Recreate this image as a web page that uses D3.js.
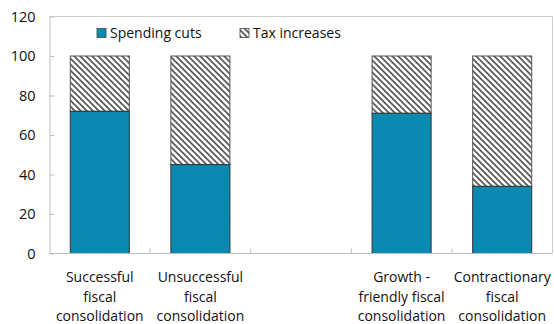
<!DOCTYPE html>
<html>
<head>
<meta charset="utf-8">
<script src="https://cdn.jsdelivr.net/npm/d3@7/dist/d3.min.js"></script>
<style>
  html, body { margin: 0; padding: 0; background: #fff; }
  svg { display: block; font-family: "Open Sans", "Noto Sans", sans-serif; }
</style>
</head>
<body>
<svg id="chart" width="554" height="324"></svg>
<script>
// Category slots (the middle slot is an intentional gap between the two groups)
const slots = ["succ", "unsucc", "gap", "growth", "contr"];
const categoryLines = [
  ["Successful", "fiscal", "consolidation"],
  ["Unsuccessful", "fiscal", "consolidation"],
  [],
  ["Growth -", "friendly fiscal", "consolidation"],
  ["Contractionary", "fiscal", "consolidation"]
];
const spendingCuts = [72, 45, null, 71, 34];
const taxIncreases = [28, 55, null, 29, 66];
const yTicks = [0, 20, 40, 60, 80, 100, 120];
const seriesNames = ["Spending cuts", "Tax increases"];

const svg = d3.select("#chart");
const plot = { left: 49.5, right: 552.5, top: 16.5, bottom: 253.5 };

const x = d3.scaleBand()
  .domain(slots)
  .range([plot.left, plot.right])
  .paddingInner(0.413)
  .paddingOuter(0.2065);

const y = d3.scaleLinear().domain([0, 120]).range([plot.bottom, plot.top]);

// Patterns: diagonal hatch for tax increases, faint texture on the blue fill
const defs = svg.append("defs");
const hatch = defs.append("pattern")
  .attr("id", "hatch")
  .attr("patternUnits", "userSpaceOnUse")
  .attr("width", 6).attr("height", 6);
hatch.append("rect").attr("width", 6).attr("height", 6).attr("fill", "#fff");
hatch.append("path")
  .attr("d", "M-1,-1 L7,7 M-4,2 L2,8 M4,-2 L8,2")
  .attr("stroke", "#555").attr("stroke-width", 1.6);

const blue = defs.append("pattern")
  .attr("id", "blueFill")
  .attr("patternUnits", "userSpaceOnUse")
  .attr("width", 6).attr("height", 6);
blue.append("rect").attr("width", 6).attr("height", 6).attr("fill", "#0a8ab2");
blue.append("path")
  .attr("d", "M-1,-1 L7,7 M-4,2 L2,8 M4,-2 L8,2")
  .attr("stroke", "#05668a").attr("stroke-width", 1).attr("opacity", 0.18);

// Plot frame (top and right edges)
svg.append("path")
  .attr("d", `M${plot.left},${plot.top} H${plot.right} V${plot.bottom}`)
  .attr("fill", "none").attr("stroke", "#cfcfcf").attr("stroke-width", 1);

// Bars
const data = slots.map((s, i) => ({ slot: s, spend: spendingCuts[i], tax: taxIncreases[i] }))
  .filter(d => d.spend != null);

const bars = svg.append("g");
bars.selectAll("rect.tax").data(data).join("rect")
  .attr("class", "tax")
  .attr("x", d => x(d.slot))
  .attr("width", x.bandwidth())
  .attr("y", d => y(d.spend + d.tax))
  .attr("height", d => y(d.spend) - y(d.spend + d.tax))
  .attr("fill", "url(#hatch)")
  .attr("stroke", "#555").attr("stroke-width", 1);

bars.selectAll("rect.spend").data(data).join("rect")
  .attr("class", "spend")
  .attr("x", d => x(d.slot))
  .attr("width", x.bandwidth())
  .attr("y", d => y(d.spend))
  .attr("height", d => y(0) - y(d.spend))
  .attr("fill", "url(#blueFill)")
  .attr("stroke", "#333").attr("stroke-width", 1);

// Y axis with inward ticks
const yAxis = svg.append("g")
  .attr("transform", `translate(${plot.left},0)`)
  .call(d3.axisLeft(y).tickValues(yTicks).tickSizeInner(-5).tickSizeOuter(0).tickPadding(14));
yAxis.select(".domain").attr("stroke", "#bfbfbf");
yAxis.selectAll(".tick line").attr("stroke", "#bfbfbf");
yAxis.selectAll(".tick text")
  .attr("font-size", 14.5).attr("fill", "#111")
  .attr("font-family", "'Open Sans', 'Noto Sans', sans-serif");

// X axis baseline and category boundary ticks
svg.append("line")
  .attr("x1", plot.left).attr("x2", plot.right)
  .attr("y1", plot.bottom).attr("y2", plot.bottom)
  .attr("stroke", "#bfbfbf");
svg.append("g").selectAll("line").data(slots.slice(1))
  .join("line")
  .attr("x1", d => x(d) - x.step() * x.paddingInner() / 2)
  .attr("x2", d => x(d) - x.step() * x.paddingInner() / 2)
  .attr("y1", plot.bottom).attr("y2", plot.bottom - 5)
  .attr("stroke", "#bfbfbf");

// Category labels (multi-line)
const labels = svg.append("g");
slots.forEach((s, i) => {
  const t = labels.append("text")
    .attr("text-anchor", "middle")
    .attr("font-size", 14).attr("fill", "#111")
    .attr("x", x(s) + x.bandwidth() / 2)
    .attr("y", 282);
  categoryLines[i].forEach((line, j) => {
    t.append("tspan")
      .attr("x", x(s) + x.bandwidth() / 2)
      .attr("dy", j === 0 ? 0 : 19.5)
      .text(line);
  });
});

// Legend
const legend = svg.append("g").attr("font-size", 14).attr("fill", "#111");
const legendItems = [
  { name: seriesNames[0], fill: "#0a8ab2", x: 97 },
  { name: seriesNames[1], fill: "url(#hatch)", x: 240 }
];
legendItems.forEach(d => {
  legend.append("rect")
    .attr("x", d.x).attr("y", 28.5).attr("width", 9).attr("height", 9)
    .attr("fill", d.fill).attr("stroke", "#444").attr("stroke-width", 0.8);
  legend.append("text")
    .attr("x", d.x + 13).attr("y", 38)
    .text(d.name);
});
</script>
</body>
</html>
